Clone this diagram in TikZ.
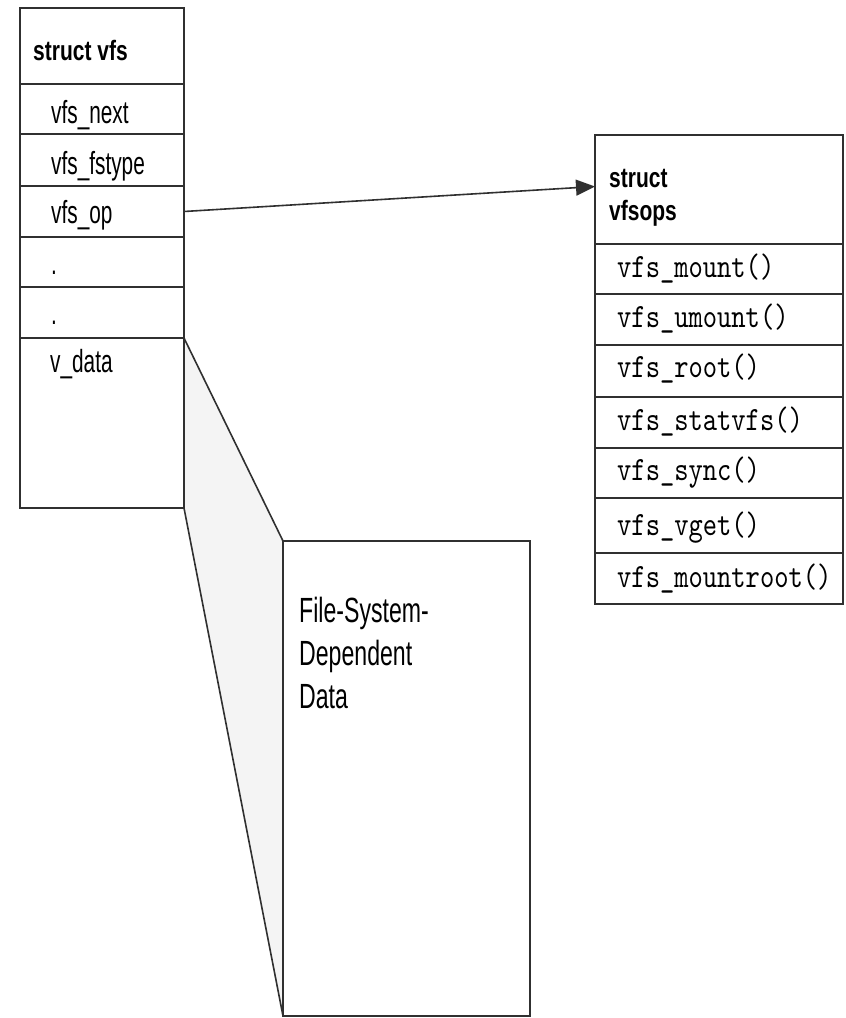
\documentclass[tikz,border=0pt]{standalone}
\usepackage{fontspec}
\usetikzlibrary{arrows.meta}
% condensed faces used throughout the figure
\newfontfamily\nsans{Liberation Sans}[FakeStretch=0.65]
\newfontfamily\nsanswide{Liberation Sans}[FakeStretch=0.66]
\newfontfamily\nbold{Liberation Sans}[FakeStretch=0.75]
\newfontfamily\nmono{lmmono10-regular}[Extension=.otf,FakeStretch=0.8]
\definecolor{edge}{HTML}{303030}
\definecolor{wedgefill}{HTML}{F4F4F4}
\tikzset{
  cell/.style={draw=edge, line width=2pt, anchor=north west, inner sep=0pt, outer sep=0pt},
  lbl/.style={anchor=base west, inner sep=0pt, font=\nsans\fontsize{32}{38}\selectfont},
  hdr/.style={anchor=base west, inner sep=0pt, font=\nbold\bfseries\fontsize{28}{34}\selectfont},
  fn/.style={anchor=base west, inner sep=0pt, font=\nmono\fontsize{34}{40}\selectfont},
  ptr/.style={draw=edge, line width=1.6pt, -{Triangle[length=19pt,width=16pt]}},
}
\begin{document}
\begin{tikzpicture}[x=1pt,y=-1pt]
\useasboundingbox (0,0) rectangle (846,1018);

% struct vfs
\node[cell, minimum width=164pt, minimum height=76pt]  (vhead)  at (20,8)   {};
\node[cell, minimum width=164pt, minimum height=50pt]  (vnext)  at (20,84)  {};
\node[cell, minimum width=164pt, minimum height=52pt]  (vtype)  at (20,134) {};
\node[cell, minimum width=164pt, minimum height=51pt]  (vop)    at (20,186) {};
\node[cell, minimum width=164pt, minimum height=50pt]  (vdot1)  at (20,237) {};
\node[cell, minimum width=164pt, minimum height=51pt]  (vdot2)  at (20,287) {};

% file-system-dependent data and the wedge joining it to v_data
\coordinate (vdne) at (184,338);
\coordinate (vdse) at (184,508);
\node[cell, minimum width=247pt, minimum height=475pt] (fsd) at (283,541) {};
\fill[wedgefill] (vdne) -- (fsd.north west) -- (fsd.south west) -- (vdse) -- cycle;
\draw[edge, line width=1.6pt] (vdne) -- (fsd.north west);
\draw[edge, line width=1.6pt] (vdse) -- (fsd.south west);
\node[cell, minimum width=247pt, minimum height=475pt] (fsdbox) at (283,541) {};
\node[cell, minimum width=164pt, minimum height=170pt] (vdata)  at (20,338) {};

\node[hdr] (tvhead) at (33,60)  {struct vfs};
\node[lbl] (tnext)  at (51,123) {vfs\_next};
\node[lbl] (ttype)  at (51,174) {vfs\_fstype};
\node[lbl] (top)    at (51,223) {vfs\_op};
\node[lbl] (tdot1)  at (51,274) {.};
\node[lbl] (tdot2)  at (51,324) {.};
\node[lbl] (tdata)  at (50,372) {v\_data};

% multi-line labels are anchored on their last line
\node[anchor=base west, inner sep=0pt, align=left,
      font=\nsanswide\fontsize{35}{43}\selectfont] (tfsd) at (299,708)
  {File-System-\\Dependent\\Data};

% struct vfsops
\node[cell, minimum width=248pt, minimum height=109pt] (ohead)   at (595,135) {};
\node[cell, minimum width=248pt, minimum height=50pt]  (omount)  at (595,244) {};
\node[cell, minimum width=248pt, minimum height=51pt]  (oumount) at (595,294) {};
\node[cell, minimum width=248pt, minimum height=52pt]  (oroot)   at (595,345) {};
\node[cell, minimum width=248pt, minimum height=51pt]  (ostat)   at (595,397) {};
\node[cell, minimum width=248pt, minimum height=50pt]  (osync)   at (595,448) {};
\node[cell, minimum width=248pt, minimum height=55pt]  (ovget)   at (595,498) {};
\node[cell, minimum width=248pt, minimum height=51pt]  (omroot)  at (595,553) {};

\node[hdr, align=left] (tohead) at (609,220) {struct\\[-1pt]vfsops};
\node[fn] (tmount)  at (617,277) {vfs\_mount()};
\node[fn] (tumount) at (617,327) {vfs\_umount()};
\node[fn] (troot)   at (617,377) {vfs\_root()};
\node[fn] (tstat)   at (617,430) {vfs\_statvfs()};
\node[fn] (tsync)   at (617,480) {vfs\_sync()};
\node[fn] (tvget)   at (617,535) {vfs\_vget()};
\node[fn] (tmroot)  at (617,587) {vfs\_mountroot()};

% vfs_op points at the operations vector
\draw[ptr] (vop.east) -- ([yshift=3pt]ohead.west);
\end{tikzpicture}
\end{document}
